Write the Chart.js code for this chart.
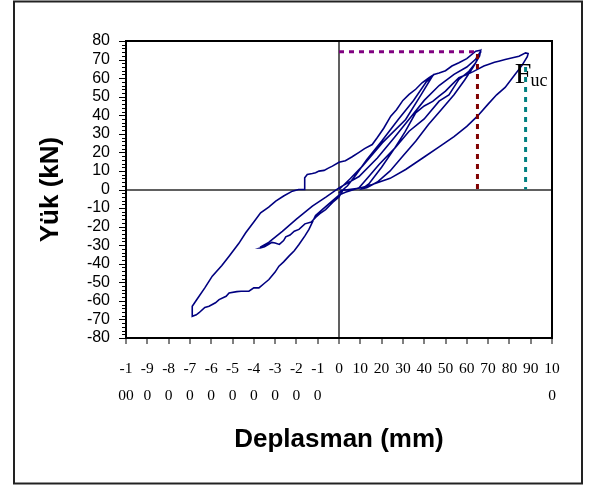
<!DOCTYPE html>
<html>
<head>
<meta charset="utf-8">
<script src="https://cdn.jsdelivr.net/npm/chart.js@4"></script>
<style>
  html, body { margin: 0; padding: 0; background: #fff; }
  #wrap { width: 592px; height: 485px; }
</style>
</head>
<body>
<div id="wrap"><canvas id="loadChart" width="592" height="485"></canvas></div>
<script>
// axis ranges and tick labels (wrapped the way the original shows them)
const xMin = -100, xMax = 100, yMin = -80, yMax = 80;
const xTickLabels = [
  ['-1', '00'], ['-9', '0'], ['-8', '0'], ['-7', '0'], ['-6', '0'], ['-5', '0'],
  ['-4', '0'], ['-3', '0'], ['-2', '0'], ['-1', '0'], '0', '10', '20', '30',
  '40', '50', '60', '70', '80', '90', ['10', '0']
];

// hysteresis curve, displacement (mm) and load (kN)
const hystX = [
  0, 5, 11, 20.3, 31.3, 38, 43.8,
  44.6, 41, 35, 28, 20, 13, 8, 4, 2,
  0, -3, -6.3, -9, -11, -13, -16, -18.8, -21, -23, -25, -26, -28, -30, -31.5, -33, -35, -37,
  -36.8, -33, -26.6, -20, -12.5, -6, 0, 9.4, 18, 26, 33, 40, 47, 54, 60, 64, 66.5,
  66.5, 65.7, 64.2, 61, 56.3, 51.6, 47, 40, 32.9, 26, 18.8, 14, 9.4, 7,
  3, 0, -3, -8, -11, -14.1, -16, -18.8, -21, -23.5, -26, -28.2, -30, -32.9, -35, -37.6, -40, -42.3, -46, -48, -51.6, -53, -56.3, -58, -61, -63, -65.7, -67, -68.9,
  -68.9, -68.9, -67.3, -63, -59.5, -55, -51.6, -47, -43.8, -40, -36.8, -33, -29.7, -26, -21.9, -19, -16.4, -16.2, -16, -14.9, -12.5, -11, -9.4, -7, -5, -3.1, 0, 3, 6, 9.4, 12, 15.6, 18, 21, 24.3, 27, 30, 32.9, 36, 39, 42.3, 44.6, 47, 50, 53, 56.3, 60, 64.2, 66.5,
  66, 63, 59, 54, 48, 42, 36, 30, 24, 18, 13, 11,
  14, 20, 26, 31, 36, 40, 44, 47, 50, 53, 56.3, 60, 63, 65, 68, 70.4, 73, 75, 78, 81, 84.5, 87.6, 88.8,
  88.4, 86, 82, 78, 74, 70, 65, 60, 54, 47, 40, 31.3, 24, 15.6, 10, 4.7, 1, 0
];
const hystY = [
  0, 5.5, 12.6, 25.1, 37.7, 50, 61,
  62, 58, 48, 38, 26, 16, 8, 2, 0,
  -4, -7, -10.8, -13, -15, -17.5, -18.5, -21.5, -22.5, -24.5, -25.5, -27.5, -29.6, -28.8, -28.5, -29.5, -30.8, -31.5,
  -31, -28.5, -22.5, -16, -9, -4, 0.9, 7, 17, 28, 38, 48, 56, 62, 66, 70, 74.5,
  74, 72.7, 68.3, 63.7, 59.3, 51, 47.6, 38, 31.4, 22, 13.5, 7, 0.9, 0,
  -1.5, -3, -6, -11, -14, -21.5, -25, -29.6, -33, -35.9, -39, -41.3, -44.5, -48.5, -50.5, -53, -53, -54.8, -54.8, -55, -55.7, -57.5, -59.3, -61, -62.9, -63.5, -66.4, -67.5, -68.3,
  -66, -62.9, -60.2, -53, -46.7, -41, -35.9, -29, -23.3, -17.5, -12.6, -9.5, -6.3, -3.5, -0.9, 0, 0, 4, 6.3, 8.1, 8.6, 9, 9.9, 10.3, 11.5, 12.6, 14.7, 15.5, 17.5, 20, 22, 24.2, 28, 33, 39.5, 43, 48, 51.2, 54, 57.5, 60.2, 62, 62.8, 64, 66.5, 68.3, 70.5, 74.5, 75,
  72, 66, 59, 51, 43, 35, 26, 18, 10, 4, 1, 0.5,
  3, 12, 22, 31, 41.3, 45, 47.5, 50.3, 53, 56.5, 60.2, 62, 63.5, 64.7, 66.5, 67.5, 68.5, 69.1, 70, 70.8, 71.8, 73.6, 73.2,
  71.5, 67, 61, 55, 51, 46, 39.5, 34, 28.5, 23, 17.5, 10.8, 6, 2.7, 0.8, 0, -0.5, -2
];

// dashed marker lines and the F_uc label position
const peakHX = [0, 65], peakHY = [74.2, 74.2];
const peakVX = [65, 65], peakVY = [73, 0];
const ultVX = [87.6, 87.6], ultVY = [66, 0];
const fucX = 82.5, fucY = 57.5;

const toPoints = (xs, ys) => xs.map((v, i) => ({ x: v, y: ys[i] }));

const framePlugin = {
  id: 'frame',
  beforeDraw(chart) {
    const ctx = chart.ctx;
    ctx.save();
    ctx.fillStyle = '#fff';
    ctx.fillRect(0, 0, chart.width, chart.height);
    ctx.strokeStyle = '#222';
    ctx.lineWidth = 2;
    ctx.strokeRect(14, 1.5, 568, 482);
    ctx.restore();
  },
  afterDraw(chart) {
    const { ctx, chartArea: a, scales: { x, y } } = chart;
    ctx.save();
    ctx.strokeStyle = '#000';
    ctx.lineWidth = 2;
    ctx.strokeRect(a.left, a.top, a.right - a.left, a.bottom - a.top);
    ctx.lineWidth = 1;
    for (let v = yMin; v <= yMax; v += 2) {
      const py = Math.round(y.getPixelForValue(v)) + 0.5;
      const len = v % 10 === 0 ? 7 : 4;
      ctx.beginPath();
      ctx.moveTo(a.left - len, py);
      ctx.lineTo(a.left, py);
      ctx.stroke();
    }
    ctx.fillStyle = '#000';
    ctx.font = '30px "Liberation Serif"';
    const fx = x.getPixelForValue(fucX), fy = y.getPixelForValue(fucY);
    ctx.fillText('F', fx, fy);
    const fw = ctx.measureText('F').width;
    ctx.font = '18px "Liberation Serif"';
    ctx.fillText('uc', fx + fw - 1, fy + 3);
    ctx.restore();
  }
};

const dashed = (xs, ys, color) => ({
  data: toPoints(xs, ys),
  showLine: true,
  borderColor: color,
  borderWidth: 3,
  borderDash: [5, 5],
  pointRadius: 0,
  fill: false
});

new Chart(document.getElementById('loadChart').getContext('2d'), {
  type: 'scatter',
  data: {
    datasets: [
      dashed(peakHX, peakHY, '#800080'),
      dashed(peakVX, peakVY, '#800000'),
      dashed(ultVX, ultVY, '#008080'),
      {
        label: 'Yük',
        data: toPoints(hystX, hystY),
        showLine: true,
        borderColor: '#000080',
        borderWidth: 1.6,
        pointRadius: 0,
        tension: 0,
        fill: false
      }
    ]
  },
  options: {
    responsive: false,
    animation: false,
    layout: { padding: { left: 30, top: 41, right: 40, bottom: 10 } },
    plugins: {
      legend: { display: false },
      tooltip: { enabled: false }
    },
    scales: {
      x: {
        type: 'linear',
        min: xMin,
        max: xMax,
        afterFit: s => { s.height = 137; },
        border: { display: false },
        grid: {
          color: c => (c.tick && c.tick.value === 0 ? '#606060' : 'rgba(0,0,0,0)'),
          lineWidth: 2,
          tickColor: '#000',
          tickWidth: 1,
          tickLength: 6
        },
        ticks: {
          stepSize: 10,
          autoSkip: false,
          maxRotation: 0,
          minRotation: 0,
          padding: 12,
          color: '#000',
          font: { family: '"Liberation Serif"', size: 15.5, lineHeight: 1.72 },
          callback: v => xTickLabels[Math.round((v - xMin) / 10)]
        },
        title: {
          display: true,
          text: 'Deplasman (mm)',
          color: '#000',
          font: { family: '"Liberation Sans"', size: 26, weight: 'bold' },
          padding: { top: 0, bottom: 20 }
        }
      },
      y: {
        min: yMin,
        max: yMax,
        afterFit: s => { s.width = 96; },
        border: { display: false },
        grid: {
          color: c => (c.tick && c.tick.value === 0 ? '#606060' : 'rgba(0,0,0,0)'),
          lineWidth: 2,
          drawTicks: false
        },
        ticks: {
          stepSize: 10,
          autoSkip: false,
          padding: 16,
          color: '#000',
          font: { family: '"Liberation Sans"', size: 16 }
        },
        title: {
          display: true,
          text: 'Yük (kN)',
          color: '#000',
          font: { family: '"Liberation Sans"', size: 26, weight: 'bold' },
          padding: { top: 5, bottom: 0 }
        }
      }
    }
  },
  plugins: [framePlugin]
});
</script>
</body>
</html>
